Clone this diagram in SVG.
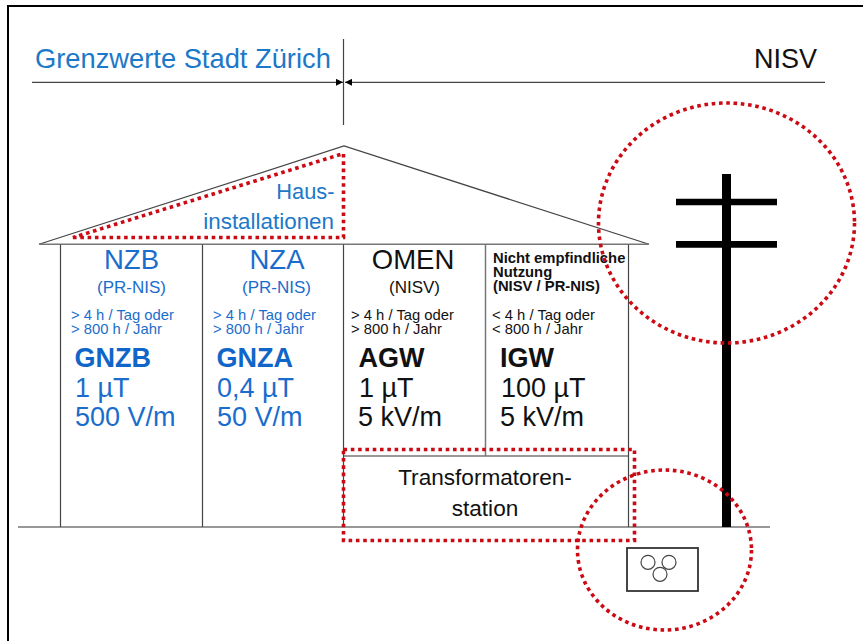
<svg xmlns="http://www.w3.org/2000/svg" width="863" height="641" viewBox="0 0 863 641">
<style>
text{font-family:"Liberation Sans",Arial,sans-serif}
.t{fill:#1c78c8}.b{fill:#1a6dcc}.d{fill:#0f66c8}.k{fill:#111}
.n{font-size:27.500px}.s{font-size:17px}.xs{font-size:14.800px}.h{font-size:27px;font-weight:bold}.v{font-size:27px}.e{font-size:14.800px;font-weight:bold}
.l{stroke:#444;stroke-width:1.200;fill:none}
.g{stroke:#777;stroke-width:1.500;fill:none}
.r{stroke:#cc0a14;stroke-width:3.600;stroke-dasharray:3.600 3.700;fill:none}
</style>
<defs><marker id="a" markerWidth="7" markerHeight="7" refX="7" refY="3.500" orient="auto" markerUnits="userSpaceOnUse"><path d="M0 0L7 3.500L0 7Z" fill="#000"/></marker></defs>
<rect width="863" height="641" fill="#fff"/>
<path d="M8 641V6H863" fill="none" stroke="#000" stroke-width="2"/>
<g id="connectors">
<line class="l" x1="32" y1="82.300" x2="343" y2="82.300" marker-end="url(#a)"/>
<line class="l" x1="825" y1="82.300" x2="345" y2="82.300" marker-end="url(#a)"/>
<line class="l" x1="343.500" y1="39" x2="343.500" y2="125"/>
</g>
<g id="header-zurich"><text class="t" x="35" y="68" font-size="27.300">Grenzwerte Stadt Zürich</text></g>
<g id="header-nisv"><text class="k" x="754" y="68" font-size="27">NISV</text></g>
<g id="house">
<path class="l" d="M39 244.300L344 146L649 244.300"/>
<path class="g" d="M39 244.300H649M343.500 456H628.500M18 527H770"/>
<path class="l" d="M60.500 244.500V527M202.500 244.500V527M343.500 244.500V527M628.500 244.500V527"/>
<path class="g" d="M485.500 244.500V456"/>
</g>
<g id="hausinstallationen">
<text class="t" font-size="21.800" text-anchor="end" x="334.500" y="198.500">Haus-</text>
<text class="t" font-size="22.400" text-anchor="end" x="334" y="228.500">installationen</text>
<path class="r" d="M73 237.500H343.500V153.500Z"/>
</g>
<g id="nzb">
<text class="b n" text-anchor="middle" x="131.500" y="269">NZB</text>
<text class="b s" text-anchor="middle" x="131.500" y="292.500">(PR-NIS)</text>
<text class="b xs" x="71" y="320">&gt; 4 h / Tag oder</text>
<text class="b xs" x="71" y="334">&gt; 800 h / Jahr</text>
<text class="d h" x="74.500" y="366.500">GNZB</text>
<text class="b v" x="75" y="397">1 µT</text>
<text class="b v" x="75" y="426">500 V/m</text>
</g>
<g id="nza">
<text class="b n" text-anchor="middle" x="277" y="269">NZA</text>
<text class="b s" text-anchor="middle" x="276.500" y="292.500">(PR-NIS)</text>
<text class="b xs" x="213" y="320">&gt; 4 h / Tag oder</text>
<text class="b xs" x="213" y="334">&gt; 800 h / Jahr</text>
<text class="d h" x="216.500" y="366.500">GNZA</text>
<text class="b v" x="217" y="397">0,4 µT</text>
<text class="b v" x="217" y="426">50 V/m</text>
</g>
<g id="omen">
<text class="k n" text-anchor="middle" x="413" y="269">OMEN</text>
<text class="k s" text-anchor="middle" x="414.500" y="292.500">(NISV)</text>
<text class="k xs" x="351" y="320">&gt; 4 h / Tag oder</text>
<text class="k xs" x="351" y="334">&gt; 800 h / Jahr</text>
<text class="k h" x="358.500" y="366.500">AGW</text>
<text class="k v" x="359" y="397">1 µT</text>
<text class="k v" x="358" y="426">5 kV/m</text>
</g>
<g id="nicht-empfindlich">
<text class="k e" x="493" y="262.500">Nicht empfindliche</text>
<text class="k e" x="493" y="276.500">Nutzung</text>
<text class="k e" x="493" y="291">(NISV / PR-NIS)</text>
<text class="k xs" x="492" y="320">&lt; 4 h / Tag oder</text>
<text class="k xs" x="492" y="334">&lt; 800 h / Jahr</text>
<text class="k h" x="500" y="366.500">IGW</text>
<text class="k v" x="501" y="397">100 µT</text>
<text class="k v" x="500" y="426">5 kV/m</text>
</g>
<g id="trafostation">
<text class="k" font-size="22.600" text-anchor="middle" x="485" y="485">Transformatoren-</text>
<text class="k" font-size="22.600" text-anchor="middle" x="485" y="515.500">station</text>
<rect class="r" x="343.500" y="449.500" width="291" height="91"/>
</g>
<g id="mast">
<path d="M726.500 174V527" stroke="#000" stroke-width="9" fill="none"/>
<path d="M676 202H777M676 244.300H777" stroke="#000" stroke-width="6.700" fill="none"/>
<ellipse class="r" cx="726.500" cy="223" rx="128" ry="120"/>
</g>
<g id="trafo">
<rect x="627" y="548" width="71" height="43" fill="none" stroke="#333" stroke-width="1.800"/>
<circle class="l" cx="648" cy="562.300" r="7"/><circle class="l" cx="669" cy="562.300" r="7"/><circle class="l" cx="660" cy="574.300" r="7"/>
<ellipse class="r" cx="664.500" cy="550" rx="87" ry="80"/>
</g>
</svg>
